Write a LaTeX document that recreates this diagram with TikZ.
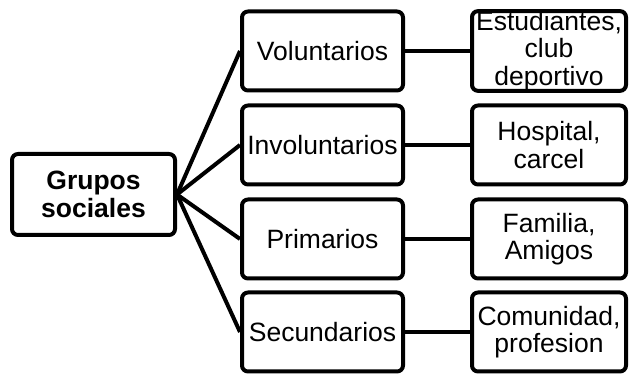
\documentclass[tikz,border=0pt]{standalone}
\usepackage{fontspec}
\setmainfont{Liberation Sans}
\begin{document}
\begin{tikzpicture}[x=1pt,y=1pt,
    every node/.style={inner sep=0, align=center, font=\fontsize{26.5}{27.5}\selectfont},
    box/.style={draw, line width=4pt, rounded corners=6pt, minimum height=79pt},
    midbox/.style={box, minimum width=161pt},
    leafbox/.style={box, minimum width=154pt},
    link/.style={line width=4pt}]
            \useasboundingbox (0,0) rectangle (630,374);
            \node[box,minimum width=163pt,minimum height=81pt] (root) at (93.5,179.5){\textbf{Grupos}\\\textbf{sociales}};
            \node[midbox] (vol) at (322.5,323){Voluntarios};
            \node[midbox] (invol) at (322.5,229){Involuntarios};
            \node[midbox] (prim) at (322.5,135){Primarios};
            \node[midbox] (sec) at (322.5,42){Secundarios};
            \node[leafbox] (est) at (549,323){Estudiantes,\\club\\deportivo};
            \node[leafbox] (hosp) at (549,229){Hospital,\\carcel};
            \node[leafbox] (fam) at (549,135){Familia,\\Amigos};
            \node[leafbox] (com) at (549,42){Comunidad,\\profesion};
        
            \draw[link] (root.east) -- (vol.west);
            \draw[link] (root.east) -- (invol.west);
            \draw[link] (root.east) -- (prim.west);
            \draw[link] (root.east) -- (sec.west);
            \draw[link] (vol) -- (est);
            \draw[link] (invol) -- (hosp);
            \draw[link] (prim) -- (fam);
            \draw[link] (sec) -- (com);
        \end{tikzpicture}
\end{document}
